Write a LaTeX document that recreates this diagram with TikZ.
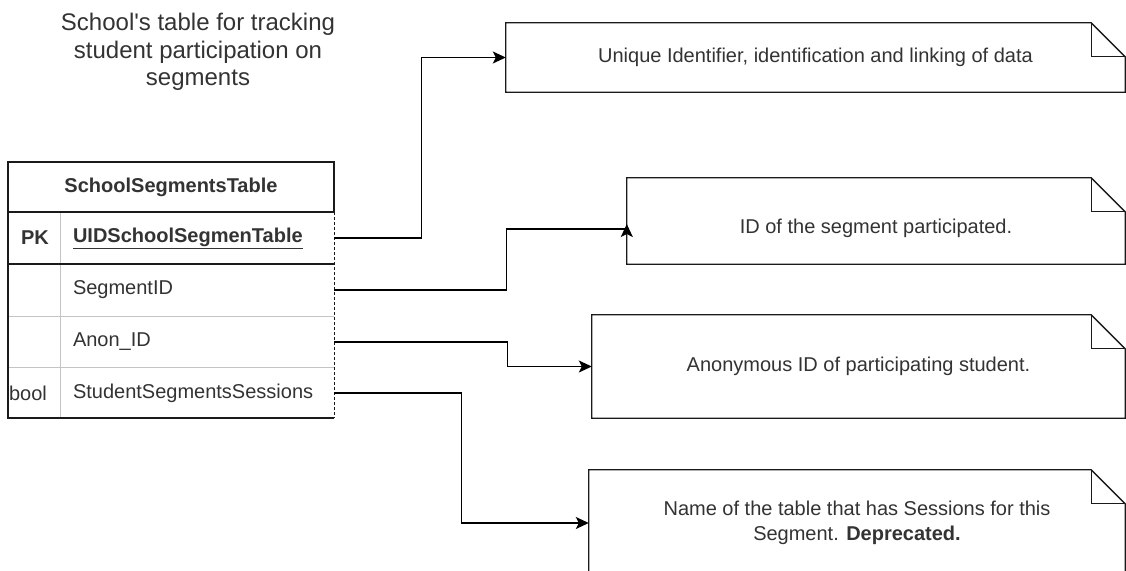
\documentclass[tikz,border=0pt]{standalone}
\usepackage{fontspec}
\setmainfont{Liberation Sans}[Ligatures=TeXOff]
\usetikzlibrary{arrows.meta,calc}

\definecolor{txt}{HTML}{333333}
\definecolor{sep}{HTML}{C4C4C4}
\definecolor{edge}{HTML}{1A1A1A}

\tikzset{
  base/.style={font=\fontsize{20}{25}\selectfont, text=txt, inner sep=0pt},
  rowtext/.style={base, minimum width=274pt, minimum height=52pt,
                  text width=248pt, inner xsep=13pt, align=left},
  keytext/.style={base},
  notebox/.style={base, draw=none, align=center},
  tblline/.style={draw=edge, line width=1.3pt},
  sepline/.style={draw=sep, line width=1pt},
  conn/.style={draw=black, line width=1.4pt,
               -{Stealth[length=13pt,width=12pt,inset=3pt]}},
}

% folded-corner note outline around a named node
\newcommand\drawnote[1]{%
  \draw[tblline] (#1.north west) -- ([xshift=-34pt]#1.north east)
     -- ([yshift=-34pt]#1.north east) -- (#1.south east)
     -- (#1.south west) -- cycle;
  \draw[tblline] ([xshift=-34pt]#1.north east)
     -- ([xshift=-34pt,yshift=-34pt]#1.north east)
     -- ([yshift=-34pt]#1.north east);
}

\begin{document}
\begin{tikzpicture}[x=1pt,y=-1pt]
\useasboundingbox (0,0) rectangle (1126,570);
\fill[white] (0,0) rectangle (1126,570);

% caption above the table
\node[base, font=\fontsize{24}{27.5}\selectfont, align=center] (title) at (198,52)
  {School's table for tracking\\student participation on\\segments};

% table frame
\draw[sepline] (8,316) -- (334,316);
\draw[sepline] (8,367) -- (334,367);
\draw[sepline] (60,212) -- (60,418);
\draw[draw=edge, line width=1pt, dashed, dash pattern=on 3pt off 2pt] (334,212) -- (334,418);
\draw[tblline] (8,162) rectangle (334,212);
\draw[tblline] (8,212) -- (8,418) -- (334,418);
\draw[tblline] (8,264) -- (334,264);

% table texts
\node[base] (hdr) at (171,187) {\bfseries SchoolSegmentsTable};
\node[keytext] (pkkey) at (35,238) {\bfseries PK};
\node[rowtext] (pk) at (197,238) {\bfseries\underline{UIDSchoolSegmenTable}};
\node[rowtext] (seg) at (197,290) {SegmentID};
\node[rowtext] (anon) at (197,342) {Anon\_ID};
\node[keytext] (boolkey) at (28,393) {bool};
\node[rowtext] (sess) at (197,393) {StudentSegmentsSessions};

% notes
\node[notebox, minimum width=619pt, minimum height=69pt] (n1) at (815.5,57.5)
  {Unique Identifier, identification and linking of data};
\node[notebox, minimum width=498pt, minimum height=86pt,
      label={[base, yshift=-7pt]center:ID of the segment participated.}] (n2) at (876,221) {};
\node[notebox, minimum width=533pt, minimum height=103pt] (n3) at (858.5,366.5)
  {Anonymous ID of participating student.};
\node[notebox, minimum width=536pt, minimum height=106pt] (n4) at (857,523)
  {Name of the table that has Sessions for this\\Segment. \textbf{Deprecated.}};
\drawnote{n1}
\drawnote{n2}
\drawnote{n3}
\drawnote{n4}

% connectors
\draw[conn] (pk.east) -- ++(87,0) |- (n1.west);
\draw[conn] (seg.east) -- ++(172,0) |- ($(n2.west)+(0,8)$) -- ($(n2.west)+(0,3)$);
\draw[conn] (anon.east) -- ++(173,0) |- (n3.west);
\draw[conn] (sess.east) -- ++(127,0) |- (n4.west);
\end{tikzpicture}
\end{document}
